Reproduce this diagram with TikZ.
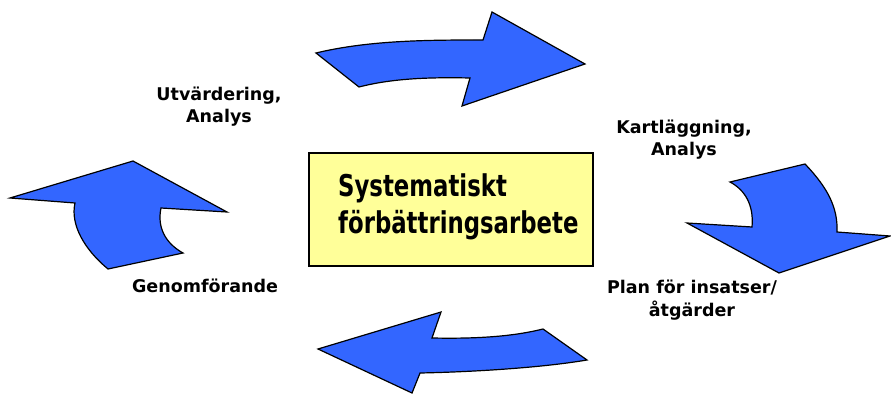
\documentclass[tikz,border=0pt]{standalone}
\usepackage{fontspec}
\setmainfont{DejaVu Sans}
\newfontfamily\titlefont[FakeStretch=0.76]{DejaVu Sans}
\definecolor{arrowblue}{RGB}{51,102,255}
\definecolor{boxyellow}{RGB}{255,255,153}
\begin{document}
\begin{tikzpicture}[x=1pt,y=-1pt,
  bigarrow/.style={fill=arrowblue,draw=black,line width=1.2pt,line join=miter},
  label/.style={font=\fontsize{17.5}{22}\selectfont\bfseries,align=center,inner sep=0pt,anchor=base},
  centerbox/.style={draw=black,fill=boxyellow,line width=1.2pt}]
\useasboundingbox (0,0) rectangle (891,395);
% top arrow
\draw[bigarrow] (316,53) .. controls (370,40) and (430,40) .. (483,40) -- (492,12) -- (585,64) -- (462,106) -- (470,78) .. controls (425,77) and (390,79) .. (359,87) -- cycle;
% right arrow
\draw[bigarrow] (730,182) -- (805,164) .. controls (828,188) and (838,208) .. (837,232) -- (890,236) -- (779,273) -- (687,223) -- (752,227) .. controls (754,205) and (745,190) .. (730,182) -- cycle;
% bottom arrow
\draw[bigarrow] (318,349) -- (441,312) -- (432,338) .. controls (480,339) and (515,336) .. (543,329) -- (587,360) .. controls (540,368) and (470,372) .. (420,373) -- (412,393) -- cycle;
% left arrow
\draw[bigarrow] (133,161) -- (227,212) -- (161,208) .. controls (157,227) and (165,243) .. (183,253) -- (108,269) .. controls (85,250) and (70,225) .. (75,203) -- (10,198) -- cycle;
% centre box
\node[centerbox,minimum width=284pt,minimum height=113pt,inner sep=0pt] (box) at (451,209.5) {};
\node[anchor=base west,inner sep=0pt,align=left,font=\titlefont\fontsize{30}{37}\selectfont\bfseries] (title) at (338,234)
  {Systematiskt\\förbättringsarbete};
\node[label] (utv) at (219,123) {Utvärdering,\\Analys};
\node[label] (kart) at (684,156) {Kartläggning,\\Analys};
\node[label] (plan) at (692,316) {Plan för insatser/\\åtgärder};
\node[label] (gen) at (205,292) {Genomförande};
\end{tikzpicture}
\end{document}
